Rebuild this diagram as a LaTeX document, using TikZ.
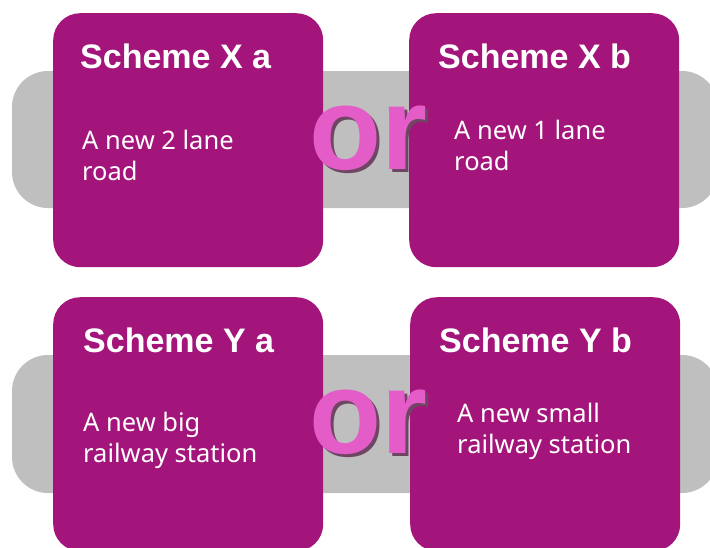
\documentclass[tikz,border=0pt]{standalone}
\usepackage{fontspec}
\setmainfont{Noto Sans}
\newfontfamily\titlefont{Liberation Sans}
\definecolor{schemepurple}{RGB}{163,21,122}
\definecolor{orpink}{RGB}{227,92,200}
\definecolor{orshade}{RGB}{110,70,100}
\definecolor{bandgrey}{RGB}{191,191,191}
\newcommand{\orword}{\makebox[0pt][l]{\hspace{3pt}\raisebox{-3pt}{\color{orshade}or}}or}
\tikzset{
	scheme/.style={fill=schemepurple,rounded corners=27pt,minimum width=270pt,minimum height=254pt,anchor=north west,inner sep=0pt},
	band/.style={fill=bandgrey,rounded corners=36pt},
	title/.style={anchor=base west,inner sep=0pt,text=white,font=\titlefont\bfseries\fontsize{34}{36}\selectfont},
	body/.style={anchor=base west,inner sep=0pt,text=white,align=left,font=\fontsize{25.5}{31}\selectfont},
	ortext/.style={inner sep=0pt,text=orpink,font=\titlefont\bfseries\fontsize{118}{120}\selectfont}
}
\begin{document}
\begin{tikzpicture}[x=1pt,y=-1pt]
	\useasboundingbox (0,0) rectangle (710,547);
	\clip (0,0) rectangle (710,547);
	
	%grey bands
	\fill[band] (12,71) rectangle (718,208); %X band
	\fill[band] (12,355) rectangle (718,493); %Y band
	
	%scheme boxes
	\node[scheme] (xa) at (53,13) {};
	\node[scheme] (xb) at (409,13) {};
	\node[scheme] (ya) at (53,297) {};
	\node[scheme] (yb) at (410,297) {};
	
	%or between the boxes
	\node[ortext] (orx) at (368,140) {\orword};
	\node[ortext] (ory) at (368,424) {\orword};
	
	%titles
	\node[title] (xatitle) at (80,68) {Scheme X a};
	\node[title] (xbtitle) at (438,68) {Scheme X b};
	\node[title] (yatitle) at (83,352) {Scheme Y a};
	\node[title] (ybtitle) at (439,352) {Scheme Y b};
	
	%texts (base = last line)
	\node[body] (xatext) at (82,180) {A new 2 lane\\road};
	\node[body] (xbtext) at (454,170) {A new 1 lane\\road};
	\node[body] (yatext) at (83,462) {A new big\\railway station};
	\node[body] (ybtext) at (457,453) {A new small\\railway station};
\end{tikzpicture}
\end{document}
